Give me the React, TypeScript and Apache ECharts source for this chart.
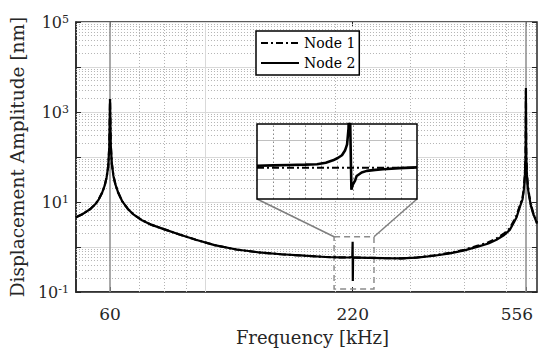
import React, { useEffect, useRef } from "react";
import * as echarts from "echarts";

// ---- data ----
const freq = [50, 52, 54, 55.5, 56.5, 57.5, 58.3, 58.9, 59.4, 59.75,
  60, 60.25, 60.6, 61.1, 61.8, 62.7, 64, 66, 68, 71,
  75, 80, 87, 95, 105, 118, 133, 150, 170, 190,
  205, 215, 219.5, 219.9, 220.1, 220.4, 221, 226, 240, 260,
  285, 310, 340, 370, 400, 430, 455, 475, 495, 510,
  522, 529, 535, 540, 546, 550, 553, 555, 556, 557,
  559, 562, 566, 571, 578, 585, 590];
const node2 = [4.6, 5.5, 7.0, 9.0, 11.5, 16, 23, 35, 60, 160,
  1950, 180, 70, 38, 24, 16, 10.5, 7, 5.3, 4.0,
  3.1, 2.5, 1.9, 1.45, 1.1, 0.88, 0.76, 0.69, 0.64, 0.60,
  0.59, 0.585, 0.6, 1.3, 0.175, 0.56, 0.58, 0.58, 0.575, 0.565,
  0.56, 0.58, 0.64, 0.72, 0.84, 1.02, 1.2, 1.45, 1.85, 2.4,
  3.6, 4.6, 6.5, 8.5, 11.5, 19, 38, 110, 3400, 115,
  40, 20, 13, 8.3, 5.5, 4.1, 3.3];
const node1 = [4.6, 5.5, 7.0, 9.0, 11.5, 16, 23, 35, 60, 160,
  1950, 180, 70, 38, 24, 16, 10.5, 7, 5.3, 4.0,
  3.1, 2.5, 1.9, 1.45, 1.1, 0.88, 0.76, 0.69, 0.64, 0.60,
  0.59, 0.585, 0.585, 0.585, 0.585, 0.585, 0.58, 0.58, 0.575, 0.565,
  0.56, 0.585, 0.65, 0.74, 0.87, 1.07, 1.27, 1.55, 2.0, 2.6,
  3.9, 5.0, 7.0, 9.2, 12, 21, 42, 120, 3000, 125,
  44, 22, 14, 8.8, 5.8, 4.3, 3.5];

const insetFreq2 = [215, 216, 217, 218, 218.75, 219.3, 219.75, 220.05, 220.31, 220.5, 220.63, 220.72, 220.78, 220.9, 220.98, 221.13, 221.23, 221.54, 221.86, 222.4, 222.88, 223.9, 225];
const insetNode2 = [1.35, 1.36, 1.37, 1.38, 1.39, 1.43, 1.49, 1.55, 1.62, 1.74, 1.90, 2.3, 3.5, 0.74, 0.86, 0.97, 1.09, 1.18, 1.22, 1.245, 1.26, 1.29, 1.31];
const insetFreq1 = [215, 217, 219, 220, 221, 223, 225];
const insetNode1 = [1.30, 1.30, 1.30, 1.30, 1.30, 1.30, 1.30];

const xTickLabels = [60, 220, 556];
const xMinorGrid = [70, 80, 90, 200, 300, 400, 500];
const xMarkedLines = [60, 556];
const xDecadeLines = [100];
const yDecades = [0.1, 1, 10, 100, 1000, 10000];
const yMultipliers = [2, 3, 4, 5, 6, 7, 8, 9];
const insetVLines = [216, 217, 218, 219, 220, 221, 222, 223, 224];
const insetHLines = [1, 2];
const zoomBox = [[199.1, 1.686], [246.5, 0.1164]];

const FONT = "DejaVu Serif";
const TXT = "#262626";
const INSET = { left: 257, top: 124, width: 160, height: 75 };

export default function App() {
  const ref = useRef<HTMLDivElement>(null);
  useEffect(() => {
    document.body.style.margin = "0";
    const chart = echarts.init(ref.current!, null, { renderer: "svg" });
    const yMinor: number[] = [];
    yDecades.forEach((d) => yMultipliers.forEach((m) => yMinor.push(+(d * m).toPrecision(3))));
    const dotted = { type: [1, 2] as any, color: "#b4b4b4", width: 1 };
    const insetDotted = { type: [1.5, 2.5] as any, color: "#8a8a8a", width: 1 };
    const hiddenAxis = { axisLine: { show: false }, axisLabel: { show: false }, splitLine: { show: false } };

    const option: any = {
      animation: false,
      backgroundColor: "#fff",
      grid: [
        { left: 75, top: 22, right: 2, bottom: 55, show: true, borderColor: TXT, borderWidth: 1.5, backgroundColor: "#fff", z: 0 },
        { ...INSET, show: true, borderColor: "#000", borderWidth: 1.5, backgroundColor: "transparent", zlevel: 1, z: 20 },
      ],
      xAxis: [
        {
          type: "log", logBase: 10, min: 50, max: 590, gridIndex: 0,
          name: "Frequency [kHz]", nameLocation: "middle", nameGap: 36,
          nameTextStyle: { fontFamily: FONT, fontSize: 18, color: TXT, padding: [0, 0, 0, 12] },
          axisLine: { show: true, lineStyle: { color: TXT, width: 1.5 } },
          axisTick: { show: true, inside: true, length: 5, customValues: xTickLabels, lineStyle: { color: TXT } },
          axisLabel: {
            customValues: xTickLabels, margin: 13, fontFamily: FONT, fontSize: 17, color: TXT,
            formatter: (v: number) => (Math.round(v) === 556 ? "{r|556}" : "{n|" + Math.round(v) + "}"),
            rich: {
              n: { fontFamily: FONT, fontSize: 17, color: TXT },
              r: { fontFamily: FONT, fontSize: 17, color: TXT, padding: [0, 18, 0, 0] },
            },
          },
          splitLine: { show: false },
        },
        {
          type: "value", min: 215, max: 225, interval: 1, gridIndex: 1, zlevel: 1, z: 5,
          axisLine: { show: false }, axisTick: { show: false }, axisLabel: { show: false },
          splitLine: { show: false },
        },
        {
          type: "log", logBase: 10, min: 50, max: 590, gridIndex: 0, position: "top",
          ...hiddenAxis,
          axisTick: { show: true, inside: true, length: 5, customValues: xTickLabels, lineStyle: { color: TXT } },
        },
      ],
      yAxis: [
        {
          type: "log", logBase: 10, min: 0.1, max: 100000, gridIndex: 0,
          name: "Displacement Amplitude [nm]", nameLocation: "middle", nameGap: 47,
          nameTextStyle: { fontFamily: FONT, fontSize: 18.5, color: TXT },
          axisLine: { show: true, lineStyle: { color: TXT, width: 1.5 } },
          axisTick: { show: true, inside: true, length: 5, lineStyle: { color: TXT } },
          axisLabel: {
            margin: 7,
            formatter: (v: number) => {
              const e = Math.round(Math.log10(v));
              if (e % 2 === 0) return "";
              return "{b|10}{e|" + e + "}";
            },
            rich: {
              b: { fontFamily: FONT, fontSize: 16, color: TXT },
              e: { fontFamily: FONT, fontSize: 11, color: TXT, verticalAlign: "top" },
            },
          },
          splitLine: { show: true, lineStyle: { color: "#d9d9d9", width: 1 } },
        },
        {
          type: "value", min: 0.5, max: 2.42, gridIndex: 1, zlevel: 1, z: 5,
          axisLine: { show: false }, axisTick: { show: false }, axisLabel: { show: false },
          splitLine: { show: false },
        },
        {
          type: "log", logBase: 10, min: 0.1, max: 100000, gridIndex: 0, position: "right",
          ...hiddenAxis,
          axisTick: { show: true, inside: true, length: 5, lineStyle: { color: TXT } },
        },
      ],
      legend: {
        data: ["Node 1", "Node 2"], orient: "vertical", left: 256, top: 31,
        padding: [5, 4, 5, 4], itemGap: 6, itemWidth: 38, itemHeight: 14,
        backgroundColor: "#fff", borderColor: "#000", borderWidth: 1.5,
        itemStyle: { opacity: 0 },
        textStyle: { fontFamily: FONT, fontSize: 14, color: "#000" }, z: 20,
      },
      series: [
        {
          name: "grid-helper", type: "line", xAxisIndex: 0, yAxisIndex: 0, data: [], silent: true, z: 1,
          markLine: {
            silent: true, symbol: "none", z: 1, label: { show: false }, animation: false,
            data: [
              ...xMinorGrid.map((x) => ({ xAxis: x, lineStyle: dotted })),
              ...yMinor.map((y) => ({ yAxis: y, lineStyle: dotted })),
              ...xDecadeLines.map((x) => ({ xAxis: x, lineStyle: { type: "solid", color: "#d9d9d9", width: 1 } })),
              ...xMarkedLines.map((x) => ({ xAxis: x, lineStyle: { type: "solid", color: "#8c8c8c", width: 1.5 } })),
            ],
          },
        },
        {
          name: "Node 2", type: "line", xAxisIndex: 0, yAxisIndex: 0, symbol: "none", z: 3,
          data: freq.map((f, i) => [f, node2[i]]),
          lineStyle: { color: "#000", width: 2.2, type: "solid" }, itemStyle: { color: "#000" },
          markArea: {
            silent: true,
            itemStyle: { color: "rgba(0,0,0,0)", borderColor: "#8c8c8c", borderWidth: 1.5, borderType: [6, 4] },
            data: [[{ coord: zoomBox[0] }, { coord: zoomBox[1] }]],
          },
        },
        {
          name: "Node 1", type: "line", xAxisIndex: 0, yAxisIndex: 0, symbol: "none", z: 4,
          data: freq.map((f, i) => [f, node1[i]]),
          lineStyle: { color: "#000", width: 2.2, type: [7, 3, 2, 3] }, itemStyle: { color: "#000" },
        },
        {
          name: "inset-2", type: "line", xAxisIndex: 1, yAxisIndex: 1, symbol: "none", zlevel: 1, z: 10,
          data: insetFreq2.map((f, i) => [f, insetNode2[i]]),
          lineStyle: { color: "#000", width: 2.6 },
          markLine: {
            silent: true, symbol: "none", zlevel: 1, z: 6, label: { show: false },
            data: [
              ...insetVLines.map((x) => ({ xAxis: x, lineStyle: insetDotted })),
              ...insetHLines.map((y) => ({ yAxis: y, lineStyle: { type: "solid", color: "#c0c0c0", width: 1 } })),
            ],
          },
        },
        {
          name: "inset-1", type: "line", xAxisIndex: 1, yAxisIndex: 1, symbol: "none", zlevel: 1, z: 11,
          data: insetFreq1.map((f, i) => [f, insetNode1[i]]),
          lineStyle: { color: "#000", width: 2.2, type: [7, 3, 2, 3] },
        },
      ],
    };
    chart.setOption(option);
    const tl = chart.convertToPixel({ xAxisIndex: 0, yAxisIndex: 0 }, [zoomBox[0][0], zoomBox[0][1]]) as number[];
    const tr = chart.convertToPixel({ xAxisIndex: 0, yAxisIndex: 0 }, [zoomBox[1][0], zoomBox[0][1]]) as number[];
    chart.setOption({
      graphic: [
        { type: "rect", zlevel: 1, z: 0, shape: { x: INSET.left, y: INSET.top, width: INSET.width, height: INSET.height }, style: { fill: "#fff" } },
        { type: "line", z: 9, shape: { x1: INSET.left, y1: INSET.top + INSET.height, x2: tl[0], y2: tl[1] }, style: { stroke: "#7f7f7f", lineWidth: 1.5 } },
        { type: "line", z: 9, shape: { x1: INSET.left + INSET.width, y1: INSET.top + INSET.height, x2: tr[0], y2: tr[1] }, style: { stroke: "#7f7f7f", lineWidth: 1.5 } },
      ],
    });
    return () => chart.dispose();
  }, []);
  return <div ref={ref} style={{ width: 539, height: 351 }} />;
}
